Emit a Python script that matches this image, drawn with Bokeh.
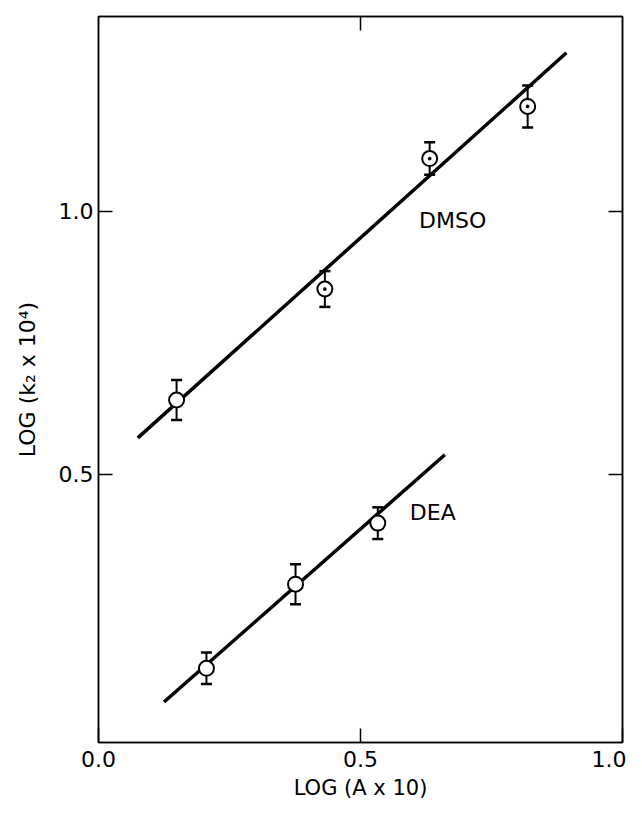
from bokeh.plotting import figure
from bokeh.models import Range1d, FixedTicker, LinearAxis, Whisker, TeeHead, ColumnDataSource
from bokeh.core.properties import value
from bokeh.embed import file_html
from bokeh.resources import INLINE

# ---- data ----
dmso_x = [0.149, 0.432, 0.632, 0.819]
dmso_y = [0.641, 0.852, 1.100, 1.199]
dmso_err = [0.038, 0.034, 0.031, 0.040]
dmso_fit_x = [0.075, 0.893]
dmso_fit_y = [0.569, 1.301]

dea_x = [0.206, 0.376, 0.533]
dea_y = [0.131, 0.291, 0.407]
dea_err = [0.030, 0.038, 0.030]
dea_fit_x = [0.125, 0.661]
dea_fit_y = [0.067, 0.537]

x_ticks = [0.0, 0.5, 1.0]
y_ticks = [0.5, 1.0]
series_labels = ["DMSO", "DEA"]
label_x = [0.676, 0.638]
label_y = [0.982, 0.428]
x_title = "LOG (A x 10)"
y_title = "LOG (k\u2082 x 10\u2074)"

FONT = "DejaVu Sans"

p = figure(width=626, height=806, output_backend="svg", toolbar_location=None,
           x_range=Range1d(0.0, 1.0), y_range=Range1d(-0.01, 1.37),
           min_border_left=98, min_border_right=4, min_border_top=16, min_border_bottom=64)
p.grid.visible = False
p.outline_line_color = "black"
p.outline_line_width = 1.5
p.background_fill_color = "white"
p.border_fill_color = "white"

# axes
xa = p.xaxis[0]
xa.ticker = FixedTicker(ticks=x_ticks)
xa.major_label_overrides = {0.0: "0.0", 0.5: "0.5", 1.0: "1.0"}
xa.axis_label = x_title
ya = p.yaxis[0]
ya.ticker = FixedTicker(ticks=y_ticks)
ya.major_label_overrides = {0.5: "0.5", 1.0: "1.0"}
ya.axis_label = y_title
for ax in (xa, ya):
    ax.axis_line_width = 1.5
    ax.major_tick_line_width = 1.5
    ax.major_tick_in = 14
    ax.major_tick_out = 0
    ax.minor_tick_line_color = None
    ax.major_label_text_font = FONT
    ax.major_label_text_font_size = "22px"
    ax.major_label_text_color = "black"
    ax.axis_label_text_font = FONT
    ax.axis_label_text_font_size = "21px"
    ax.axis_label_text_font_style = "normal"
    ax.axis_label_text_color = "black"
ya.axis_label_text_font_size = "22px"
xa.major_label_standoff = 8
xa.axis_label_standoff = 6
ya.major_label_standoff = 5
ya.axis_label_standoff = 16

top = LinearAxis(ticker=FixedTicker(ticks=[0.5]), major_label_overrides={0.5: ""},
                 major_tick_in=14, major_tick_out=0, axis_line_width=1.5,
                 major_tick_line_width=1.5, minor_tick_line_color=None, major_label_standoff=0)
right = LinearAxis(ticker=FixedTicker(ticks=y_ticks), major_label_overrides={0.5: "", 1.0: ""},
                   major_tick_in=14, major_tick_out=0, axis_line_width=1.5,
                   major_tick_line_width=1.5, minor_tick_line_color=None, major_label_standoff=0)
p.add_layout(top, "above")
p.add_layout(right, "right")

# fitted lines
p.line(dmso_fit_x, dmso_fit_y, line_color="black", line_width=3.5)
p.line(dea_fit_x, dea_fit_y, line_color="black", line_width=3.5)

# error bars
for xs, ys, es in ((dmso_x, dmso_y, dmso_err), (dea_x, dea_y, dea_err)):
    src = ColumnDataSource(dict(x=xs, lo=[y - e for y, e in zip(ys, es)],
                                hi=[y + e for y, e in zip(ys, es)]))
    w = Whisker(source=src, base="x", lower="lo", upper="hi", line_color="black",
                line_width=2,
                upper_head=TeeHead(size=11, line_width=2.5, line_color="black"),
                lower_head=TeeHead(size=11, line_width=2.5, line_color="black"))
    p.add_layout(w)

# markers
dmso_markers = ["circle", "circle_dot", "circle_dot", "circle_dot"]
p.scatter(x=dmso_x, y=dmso_y, marker=dmso_markers, size=15, fill_color="white",
          line_color="black", line_width=2)
p.scatter(x=dea_x, y=dea_y, marker="circle", size=15, fill_color="white",
          line_color="black", line_width=2)

# series labels
p.text(x=label_x, y=label_y, text=series_labels, text_font=value(FONT),
       text_font_size="22px", text_align="center", text_baseline="middle",
       text_color="black")

open("out.html", "w").write(file_html(p, INLINE))
